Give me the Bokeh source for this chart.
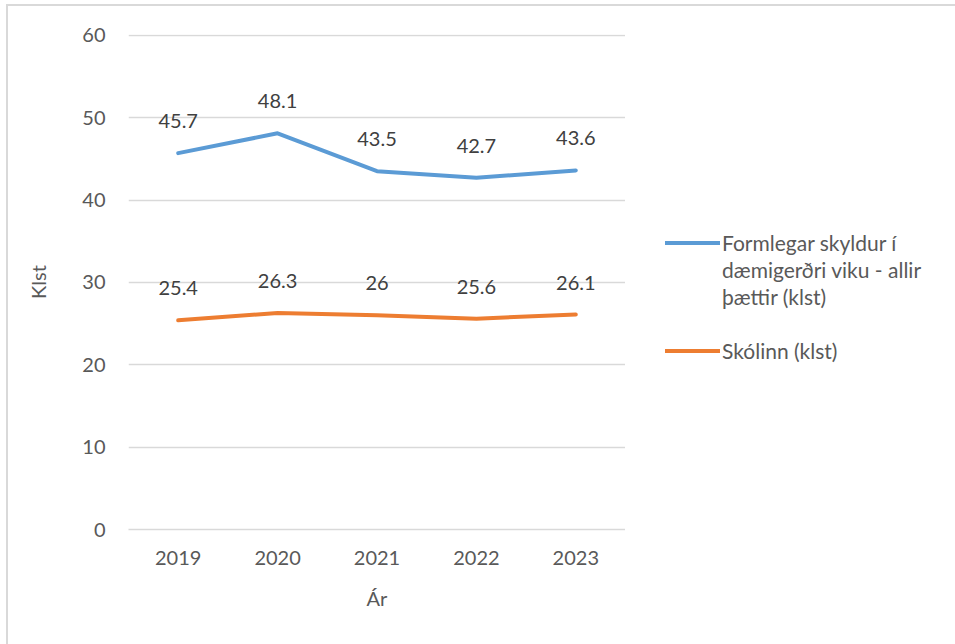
from bokeh.plotting import figure
from bokeh.layouts import row
from bokeh.models import FactorRange, Range1d, Legend, LegendItem, SingleIntervalTicker
from bokeh.core.properties import value
from bokeh.embed import file_html
from bokeh.resources import INLINE

years = ["2019", "2020", "2021", "2022", "2023"]
formlegar = [45.7, 48.1, 43.5, 42.7, 43.6]
skolinn = [25.4, 26.3, 26.0, 25.6, 26.1]
name_formlegar = ["Formlegar skyldur í", "dæmigerðri viku - allir", "þættir (klst)"]
name_skolinn = "Skólinn (klst)"
y_title = "Klst"
x_title = "Ár"

FONT = "Lato"
GREY = "#595959"
BLUE = "#5B9BD5"
ORANGE = "#ED7D31"

p = figure(x_range=FactorRange(*years, range_padding=0), y_range=Range1d(0, 60.1),
           frame_width=497, frame_height=495,
           min_border_left=120, min_border_right=0, min_border_top=28, min_border_bottom=115,
           output_backend="svg", toolbar_location=None)
p.outline_line_color = None
p.xgrid.grid_line_color = None
p.ygrid.grid_line_color = "#d9d9d9"
p.ygrid.grid_line_width = 1.5
p.yaxis.ticker = SingleIntervalTicker(interval=10)

for ax in (p.xaxis, p.yaxis):
    ax.major_tick_line_color = None
    ax.minor_tick_line_color = None
    ax.major_label_text_font = FONT
    ax.major_label_text_font_size = "20px"
    ax.major_label_text_color = GREY
    ax.axis_label_text_font = FONT
    ax.axis_label_text_font_size = "20px"
    ax.axis_label_text_color = GREY
    ax.axis_label_text_font_style = "normal"
p.yaxis.axis_line_color = None
p.xaxis.axis_line_color = "#d9d9d9"
p.xaxis.axis_line_width = 1.5
p.yaxis.major_label_standoff = 17
p.xaxis.major_label_standoff = 15
p.yaxis.axis_label = y_title
p.xaxis.axis_label = x_title
p.yaxis.axis_label_standoff = 29
p.xaxis.axis_label_standoff = 18

p.line(years, formlegar, line_color=BLUE, line_width=4, line_cap="round", line_join="round")
p.line(years, skolinn, line_color=ORANGE, line_width=4, line_cap="round", line_join="round")

for vals in (formlegar, skolinn):
    p.text(x=years, y=vals, text=["%g" % v for v in vals], text_align="center", text_baseline="middle",
           y_offset=-32, text_font=value(FONT), text_font_size="20px", text_color="#404040")

# legend panel (helper renderers lie outside the visible range; they only supply legend styles)
q = figure(x_range=Range1d(0, 330), y_range=Range1d(0, 638), width=330, height=638,
           min_border=0, output_backend="svg", toolbar_location=None)
q.axis.visible = False
q.grid.visible = False
q.outline_line_color = None
off = dict(x=[-20, -10], y=[-20, -20])
lb = q.line(line_color=BLUE, line_width=4, line_cap="round", **off)
lo = q.line(line_color=ORANGE, line_width=4, line_cap="round", **off)
ln = q.line(line_alpha=0, **off)

legend = Legend(items=[LegendItem(label=name_formlegar[0], renderers=[lb]),
                       LegendItem(label=name_formlegar[1], renderers=[ln]),
                       LegendItem(label=name_formlegar[2], renderers=[ln]),
                       LegendItem(label=" ", renderers=[ln]),
                       LegendItem(label=name_skolinn, renderers=[lo])],
                location=(40, 165), orientation="vertical",
                glyph_width=55, glyph_height=27, label_height=27, label_standoff=2,
                spacing=0, padding=0, margin=0,
                border_line_color=None, background_fill_alpha=0,
                label_text_font=FONT, label_text_font_size="21px", label_text_color=GREY)
q.add_layout(legend, "center")

layout = row(p, q, styles={"margin-left": "6px", "margin-top": "4px",
                           "border-left": "2px solid #d9d9d9", "border-top": "2px solid #d9d9d9"})

open("out.html", "w").write(file_html(layout, INLINE))
